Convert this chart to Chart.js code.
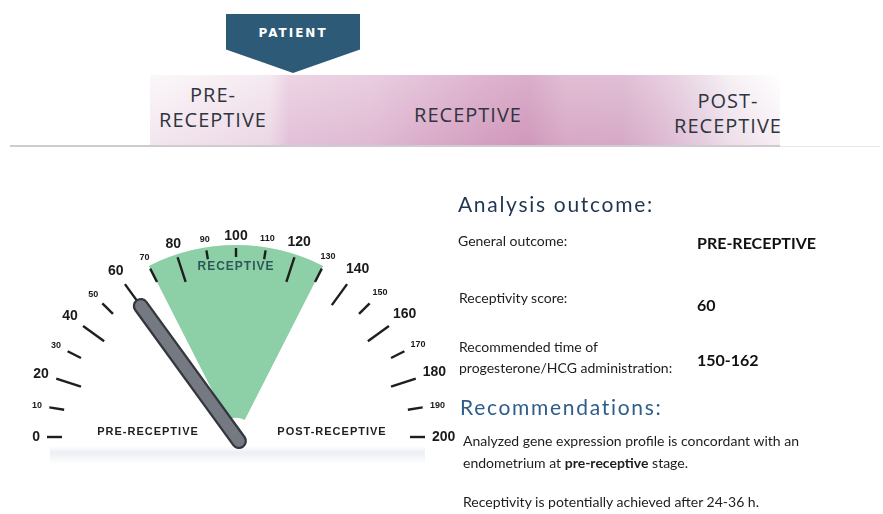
<!DOCTYPE html>
<html>
<head>
<meta charset="utf-8">
<script src="https://cdn.jsdelivr.net/npm/chart.js@4.4.1/dist/chart.umd.min.js"></script>
<style>
  body { margin: 0; background: #fff; }
  #page { position: relative; width: 883px; height: 514px; overflow: hidden; font-family: Lato, "Open Sans", sans-serif; color: #1d1d1d; }
  .abs { position: absolute; }
  #band { left: 150px; top: 75px; width: 630px; height: 71px;
    background: linear-gradient(to right, #fbf6f9 0%, #f3e6ef 19%, #e9cde0 22%, #e5c5da 35%, #d9a9c8 52%, #d4a0c1 60%, #dcb2cc 66%, #dbb3cd 75%, #e3c6da 82%, #ebdce8 88%, #f4eef3 92%, #ffffff 100%); }
  #bandShade { left: 150px; top: 75px; width: 630px; height: 71px;
    background: linear-gradient(to bottom, rgba(255,255,255,0.15), rgba(170,80,140,0.10)); }
  #rule { left: 10px; top: 145px; width: 770px; height: 2px; background: #cfcbd0; }
  #rule2 { left: 780px; top: 146px; width: 100px; height: 1px; background: #e6e6e6; }
  .band-txt { font-family: "Open Sans", sans-serif; font-size: 20px; letter-spacing: 1px; color: #2f343e; text-align: center; line-height: 25px; }
  #patient { left: 226px; top: 14px; width: 134px; height: 59px; background: #2d5a77;
    clip-path: polygon(0 0, 100% 0, 100% 60%, 50% 100%, 0 60%); }
  #patientTxt { left: 226px; top: 26px; width: 134px; text-align: center; color: #fff; font: bold 12px "DejaVu Sans", sans-serif; letter-spacing: 2px; }
  #gaugeBox { left: 0; top: 200px; width: 460px; height: 280px; }
  #shadow { left: 50px; top: 446px; width: 375px; height: 18px;
    background: linear-gradient(to bottom, rgba(215,219,230,0.0), rgba(215,219,230,0.45) 35%, rgba(230,232,238,0)); }
  .h { font-size: 21px; letter-spacing: 1.7px; }
  .t { font-size: 14px; }
  .b { font-size: 16px; font-weight: bold; color: #111; }
</style>
</head>
<body>
<div id="page">
  <div id="band" class="abs"></div>
  <div id="bandShade" class="abs"></div>
  <div id="rule" class="abs"></div>
  <div id="rule2" class="abs"></div>
  <div class="abs band-txt" style="left:138px; top:82px; width:150px;">PRE-<br>RECEPTIVE</div>
  <div class="abs band-txt" style="left:390px; top:102px; width:156px;">RECEPTIVE</div>
  <div class="abs band-txt" style="left:653px; top:88px; width:150px;">POST-<br>RECEPTIVE</div>
  <div id="patient" class="abs"></div>
  <div id="patientTxt" class="abs">PATIENT</div>

  <div id="shadow" class="abs"></div>
  <div id="gaugeBox" class="abs"><canvas id="gauge" width="460" height="280"></canvas></div>

  <div class="abs h" style="left:458px; top:191px; color:#1f3552;">Analysis outcome:</div>
  <div class="abs t" style="left:458px; top:232px;">General outcome:</div>
  <div class="abs b" style="left:697px; top:233px;">PRE-RECEPTIVE</div>
  <div class="abs t" style="left:459px; top:289px;">Receptivity score:</div>
  <div class="abs b" style="left:697px; top:295px;">60</div>
  <div class="abs t" style="left:459px; top:336px; line-height:21px;">Recommended time of<br>progesterone/HCG administration:</div>
  <div class="abs b" style="left:697px; top:350px;">150-162</div>
  <div class="abs h" style="left:460px; top:394px; color:#2d5d8b;">Recommendations:</div>
  <div class="abs t" style="left:463px; top:430px; line-height:22px;">Analyzed gene expression profile is concordant with an<br>endometrium at <b>pre-receptive</b> stage.</div>
  <div class="abs t" style="left:463px; top:493px;">Receptivity is potentially achieved after 24-36 h.</div>
</div>

<script>
// gauge data
const zoneNames = ['PRE-RECEPTIVE', 'RECEPTIVE', 'POST-RECEPTIVE'];
const zoneSizes = [70, 60, 70];
const tickValues = [0, 10, 20, 30, 40, 50, 60, 70, 80, 90, 100, 110, 120, 130, 140, 150, 160, 170, 180, 190, 200];
const bigLabels = [0, 20, 40, 60, 80, 100, 120, 140, 160, 180, 200];
const receptivityScore = 60;

function tickLen(v) {
  if (v == 90 || v == 100 || v == 110) return 9;
  if (v % 20 == 0 && v != 0 && v != 200 && v != 100) return 26;
  return 15;
}

const dialPlugin = {
  id: 'dial',
  afterDatasetsDraw(chart) {
    const ctx = chart.ctx;
    const meta = chart.getDatasetMeta(0);
    const arc0 = meta.data[0];
    const last = meta.data[meta.data.length - 1];
    const cx = arc0.x, cy = arc0.y, R = arc0.outerRadius - 3;
    const a0 = arc0.startAngle, a1 = last.endAngle;
    const total = meta.total;
    const ang = v => a0 + (a1 - a0) * v / total;

    ctx.save();
    // ticks + labels
    tickValues.forEach(v => {
      const a = ang(v), c = Math.cos(a), s = Math.sin(a);
      const r1 = R, r2 = R - tickLen(v);
      ctx.beginPath();
      ctx.moveTo(cx + r1 * c, cy + r1 * s);
      ctx.lineTo(cx + r2 * c, cy + r2 * s);
      ctx.strokeStyle = '#1e1e1e';
      ctx.lineWidth = 2.4;
      ctx.stroke();

      const big = bigLabels.includes(v);
      ctx.font = big ? 'bold 14px "Liberation Sans"' : 'bold 9px "Liberation Sans"';
      ctx.fillStyle = '#1a1a1a';
      ctx.textAlign = 'center';
      ctx.textBaseline = 'middle';
      const txt = String(v);
      const w = ctx.measureText(txt).width, h = big ? 10 : 7;
      const ext = Math.abs(c) * w / 2 + Math.abs(s) * h / 2;
      const rl = R + 7 + ext;
      ctx.fillText(txt, cx + rl * c, cy + rl * s);
    });

    // zone names
    ctx.letterSpacing = '1px';
    ctx.font = 'bold 12px "Liberation Sans"';
    ctx.fillStyle = '#2d5858';
    ctx.fillText(zoneNames[1], cx + 170 * Math.cos(ang(100)), cy + 170 * Math.sin(ang(100)));
    ctx.font = 'bold 11px "Liberation Sans"';
    ctx.fillStyle = '#1e1e1e';
    ctx.fillText(zoneNames[0], cx - 88, cy - 5);
    ctx.fillText(zoneNames[2], cx + 96, cy - 5);
    ctx.letterSpacing = '0px';

    // needle
    const na = ang(receptivityScore);
    const nc = Math.cos(na), ns = Math.sin(na);
    ctx.lineCap = 'round';
    ctx.beginPath();
    ctx.moveTo(cx - 5 * nc, cy - 5 * ns);
    ctx.lineTo(cx + 162 * nc, cy + 162 * ns);
    ctx.strokeStyle = '#34373d';
    ctx.lineWidth = 16;
    ctx.stroke();
    ctx.strokeStyle = '#757982';
    ctx.lineWidth = 11.5;
    ctx.stroke();
    ctx.restore();
  }
};

new Chart(document.getElementById('gauge'), {
  type: 'doughnut',
  data: {
    labels: zoneNames,
    datasets: [{
      data: zoneSizes,
      backgroundColor: ['rgba(0,0,0,0)', '#8dcfa6', 'rgba(0,0,0,0)'],
      borderWidth: 0,
      hoverOffset: 0
    }]
  },
  options: {
    responsive: false,
    animation: false,
    rotation: -90,
    circumference: 180,
    cutout: '10%',
    layout: { padding: { left: 44, right: 32, top: 45, bottom: 43 } },
    plugins: { legend: { display: false }, tooltip: { enabled: false } },
    events: []
  },
  plugins: [dialPlugin]
});
</script>
</body>
</html>
